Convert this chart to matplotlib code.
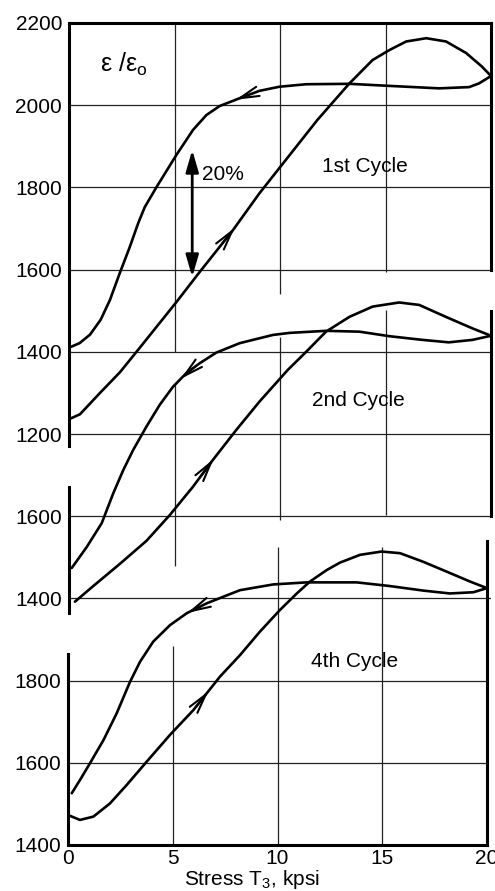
import matplotlib as mpl
mpl.use('Agg')
import matplotlib.pyplot as plt
import numpy as np

plt.rcParams['font.family'] = ['Liberation Sans', 'DejaVu Sans']
plt.rcParams['mathtext.fontset'] = 'custom'
plt.rcParams['mathtext.rm'] = 'Liberation Sans'
plt.rcParams['mathtext.it'] = 'Liberation Sans:italic'

# strain ratio e/e0 vs stress T3 (kpsi)
# 1st cycle
c1_load_x = [0, 0.13, 0.52, 1.47, 2.41, 3.2, 5.09, 6.19, 7.77, 9.03, 10.4, 11.77, 13.29, 14.39,
             15.18, 15.98, 16.93, 17.87, 18.82, 19.57, 20]
c1_load_y = [1236, 1239, 1248, 1300, 1350, 1400, 1521, 1594, 1696, 1786, 1875, 1964, 2053, 2110,
             2134, 2155, 2163, 2155, 2127, 2094, 2071]
c1_unload_x = [20, 19.43, 18.96, 17.54, 15.18, 13.29, 11.24, 9.98, 9.03, 8.09, 7.14, 6.51, 5.88,
               5.09, 4.15, 3.59, 3.28, 2.88, 2.41, 1.94, 1.5, 1.0, 0.5, 0]
c1_unload_y = [2071, 2053, 2044, 2041, 2047, 2052, 2051, 2045, 2035, 2017, 1998, 1976, 1940,
               1879, 1801, 1752, 1713, 1655, 1592, 1526, 1478, 1442, 1421, 1410]

# 2nd cycle
c2_load_x = [0.28, 1.15, 2.41, 3.67, 4.78, 5.88, 6.82, 7.93, 9.03, 10.37, 11.24, 12.18, 13.29,
             14.39, 15.65, 16.6, 17.86, 19.12, 20]
c2_load_y = [1392, 1430, 1484, 1540, 1603, 1672, 1737, 1810, 1879, 1956, 2000, 2049, 2085,
             2110, 2120, 2114, 2085, 2057, 2039]
c2_unload_x = [20, 19.12, 18.0, 16.75, 15.18, 13.76, 12.18, 10.45, 9.66, 8.09, 6.98, 6.19, 5.56,
               4.93, 4.3, 3.67, 3.04, 2.57, 2.1, 1.55, 0.84, 0.13]
c2_unload_y = [2039, 2029, 2023, 2029, 2038, 2049, 2051, 2046, 2041, 2021, 1998, 1972, 1948,
               1915, 1871, 1818, 1761, 1712, 1656, 1583, 1525, 1474]

# 4th cycle
c4_load_x = [0, 0.57, 1.21, 2.0, 2.8, 3.76, 4.87, 5.98, 7.26, 8.21, 9.16, 10.12, 10.92, 11.55,
             12.35, 12.98, 13.94, 14.97, 15.85, 16.96, 18.08, 19.19, 20]
c4_load_y = [1473, 1461, 1469, 1501, 1546, 1603, 1668, 1728, 1810, 1862, 1919, 1972, 2012, 2041,
             2069, 2087, 2106, 2114, 2110, 2089, 2065, 2041, 2025]
c4_unload_x = [20, 19.35, 18.23, 16.96, 15.37, 13.78, 11.39, 9.8, 8.21, 7.41, 6.62, 5.67, 4.87,
               4.07, 3.44, 2.96, 2.32, 1.69, 1.05, 0.57, 0.18]
c4_unload_y = [2025, 2015, 2012, 2019, 2030, 2039, 2039, 2034, 2020, 2004, 1988, 1964, 1935,
               1895, 1846, 1797, 1720, 1655, 1599, 1558, 1526]

x_ticks = [0, 5, 10, 15, 20]
c1_yticks = [1200, 1400, 1600, 1800, 2000, 2200]
c2_yticks = [1400, 1600]
c4_yticks = [1400, 1600, 1800]

W, H = 495, 891
fig = plt.figure(figsize=(W / 100, H / 100), dpi=100)
fig.patch.set_facecolor('white')

def make_axes(left_px, right_px, ylo):
    ax = fig.add_axes([left_px / W, 1 - 845 / H, (right_px - left_px) / W, 822 / H])
    ax.set_xlim(0, 20)
    ax.set_ylim(ylo, ylo + 2000)
    ax.patch.set_visible(False)
    for s in ax.spines.values():
        s.set_linewidth(2.2)
        s.set_visible(False)
    ax.tick_params(length=0, labelsize=15, pad=5)
    return ax

ax1 = make_axes(69, 491, 200)
ax2 = make_axes(69, 491, 800)
ax3 = make_axes(68, 487, 1400)

grid = dict(color='#222222', lw=0.9, zorder=1)

# panel frames (partial spines as in the original)
ax1.spines['left'].set_visible(True); ax1.spines['left'].set_bounds(1170, 2200)
ax1.spines['top'].set_visible(True)
ax1.spines['right'].set_visible(True); ax1.spines['right'].set_bounds(1600, 2200)
ax2.spines['left'].set_visible(True); ax2.spines['left'].set_bounds(1365, 1670)
ax2.spines['right'].set_visible(True); ax2.spines['right'].set_bounds(1600, 2100)
ax3.spines['left'].set_visible(True); ax3.spines['left'].set_bounds(1400, 1865)
ax3.spines['right'].set_visible(True); ax3.spines['right'].set_bounds(1400, 2140)
ax3.spines['bottom'].set_visible(True)

# grid pieces
ax1.hlines([2000, 1800, 1600, 1400, 1200], 0, 20, **grid)
ax1.vlines(5, 1400, 2200, **grid)
ax1.vlines(10, 1540, 2200, **grid)
ax1.vlines(15, 1595, 2200, **grid)
ax2.hlines([1600, 1400], 0, 20, **grid)
ax2.vlines(5, 1480, 1925, **grid)
ax2.vlines(10, 1590, 2036, **grid)
ax2.vlines(15, 1603, 2102, **grid)
ax3.hlines([1800, 1600], 0, 20, **grid)
ax3.vlines(5, 1400, 1884, **grid)
ax3.vlines([10, 15], 1400, 2125, **grid)

# ticks
ax1.set_xticks([]); ax2.set_xticks([])
ax1.set_yticks(c1_yticks)
ax2.set_yticks(c2_yticks)
ax3.set_yticks(c4_yticks)
ax3.set_xticks(x_ticks)
ax3.tick_params(axis='x', pad=3)

line = dict(color='black', lw=1.9, solid_joinstyle='round', solid_capstyle='round', zorder=3)

def curve_arrow(ax, xs, ys, x_tip, x_tail):
    order = np.argsort(xs)
    xp = np.asarray(xs, float)[order]
    yp = np.asarray(ys, float)[order]
    ax.annotate('', xy=(x_tip, np.interp(x_tip, xp, yp)),
                xytext=(x_tail, np.interp(x_tail, xp, yp)),
                arrowprops=dict(arrowstyle='->,head_length=1.0,head_width=0.25',
                                lw=1.5, color='black', mutation_scale=14,
                                shrinkA=0, shrinkB=0), zorder=4)

for ax, lx, ly, ux, uy, la, ua in [
        (ax1, c1_load_x, c1_load_y, c1_unload_x, c1_unload_y, 7.85, 7.9),
        (ax2, c2_load_x, c2_load_y, c2_unload_x, c2_unload_y, 6.85, 5.3),
        (ax3, c4_load_x, c4_load_y, c4_unload_x, c4_unload_y, 6.7, 5.7)]:
    ax.plot(lx, ly, **line)
    ax.plot(ux, uy, **line)
    curve_arrow(ax, lx, ly, la, la - 0.6)
    curve_arrow(ax, ux, uy, ua, ua + 0.6)

# labels
ax1.text(1.45, 2081, r'$\mathregular{\epsilon\ /\epsilon_o}$', fontsize=18, ha='left', va='baseline')
ax1.annotate('', xy=(5.84, 1891), xytext=(5.84, 1582),
             arrowprops=dict(arrowstyle='<|-|>,head_length=1.1,head_width=0.32',
                             lw=2, color='black', mutation_scale=12, shrinkA=0, shrinkB=0))
ax1.text(6.3, 1818, '20%', fontsize=15, ha='left', va='baseline')
ax1.text(14.0, 1838, '1st Cycle', fontsize=15, ha='center', va='baseline')
ax2.text(13.73, 1868, '2nd Cycle', fontsize=15, ha='center', va='baseline')
ax3.text(13.7, 1833, '4th Cycle', fontsize=15, ha='center', va='baseline')

ax3.set_xlabel(r'Stress T$_3$, kpsi', fontsize=15, labelpad=0)
ax3.xaxis.label.set_x(8.78 / 20)

fig.savefig('out.png', dpi=100)
